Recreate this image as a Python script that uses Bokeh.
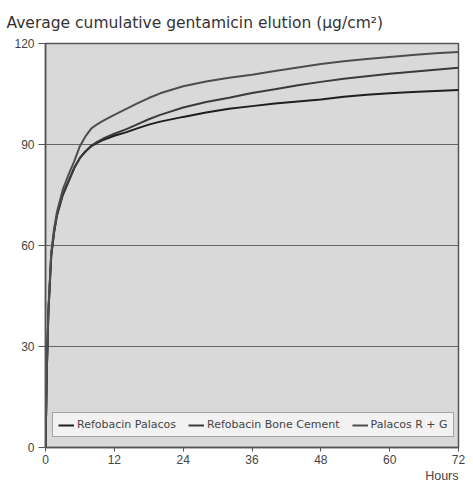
from bokeh.plotting import figure
from bokeh.models import FixedTicker, Legend, LegendItem, Title, Range1d
from bokeh.embed import file_html
from bokeh.resources import INLINE

hours = [0, 0.25, 0.5, 1, 1.5, 2, 3, 4, 5, 6, 7, 8, 9, 10, 12, 14, 16, 18, 20,
         24, 28, 32, 36, 40, 44, 48, 52, 56, 60, 64, 68, 72]
refobacin_palacos = [0, 24, 40, 57, 64, 69, 75, 79, 83, 86, 88, 89.5, 90.5, 91.3,
                     92.6, 93.6, 94.8, 95.9, 96.8, 98.2, 99.5, 100.6, 101.4, 102.2,
                     102.8, 103.4, 104.2, 104.8, 105.2, 105.6, 105.9, 106.2]
refobacin_bone_cement = [0, 24, 40, 57, 64, 69, 75, 79, 83, 86, 88, 89.7, 90.8, 91.7,
                         93.2, 94.5, 96, 97.5, 98.8, 101, 102.6, 103.9, 105.3, 106.4,
                         107.6, 108.6, 109.5, 110.3, 111, 111.6, 112.2, 112.8]
palacos_rg = [0, 25, 41, 58, 65, 70, 76.5, 81, 85, 89.5, 92.5, 94.8, 96, 97, 98.8,
              100.5, 102.2, 103.8, 105.2, 107.3, 108.7, 109.8, 110.7, 111.8, 112.9,
              113.9, 114.7, 115.4, 116, 116.6, 117.1, 117.5]

series_names = ["Refobacin Palacos", "Refobacin Bone Cement", "Palacos R + G"]
x_ticks = [0, 12, 24, 36, 48, 60, 72]
y_ticks = [0, 30, 60, 90, 120]
title_text = "Average cumulative gentamicin elution (\u00b5g/cm\u00b2)"
x_label = "Hours"

FONT = "Liberation Sans"
WIDE = "DejaVu Sans"

p = figure(width=465, height=482, output_backend="svg", toolbar_location=None,
           x_range=Range1d(0, 72), y_range=Range1d(0, 120),
           min_border_left=45, min_border_right=7, min_border_top=42,
           min_border_bottom=35)

p.title.text = title_text
p.title.align = "left"
p.title.offset = -39
p.title.text_font = WIDE
p.title.text_font_size = "15.5px"
p.title.text_font_style = "normal"
p.title.text_color = "#333333"
p.title.standoff = 23

p.add_layout(Title(text=x_label, align="right", text_font=FONT, text_font_size="12.5px",
                   text_font_style="normal", text_color="#444444", offset=0, standoff=0),
             "below")

p.background_fill_color = "#d9d9d9"
p.border_fill_color = "white"
p.outline_line_color = "#555555"
p.outline_line_width = 1.5

p.xgrid.visible = False
p.ygrid.ticker = FixedTicker(ticks=y_ticks)
p.ygrid.grid_line_color = "#666666"
p.ygrid.grid_line_width = 1.2

for ax in (p.xaxis, p.yaxis):
    ax.axis_line_color = "#555555"
    ax.axis_line_width = 1.5
    ax.major_tick_line_color = "#555555"
    ax.minor_tick_line_color = None
    ax.major_tick_in = 0
    ax.major_label_text_font = FONT
    ax.major_label_text_font_size = "12px"
    ax.major_label_text_color = "#444444"

p.xaxis.ticker = FixedTicker(ticks=x_ticks)
p.yaxis.ticker = FixedTicker(ticks=y_ticks)
p.xaxis.major_tick_out = 4
p.yaxis.major_tick_out = 7
p.xaxis.major_label_standoff = 3
p.yaxis.major_label_standoff = 4

colors = ["#1e1e1e", "#3a3a3a", "#4d4d4d"]
data = [refobacin_palacos, refobacin_bone_cement, palacos_rg]
items = []
for name, ys, c in zip(series_names, data, colors):
    r = p.line(hours, ys, line_color=c, line_width=2)
    items.append(LegendItem(label=name, renderers=[r]))

legend = Legend(items=items, orientation="horizontal", location=(7, 10),
                label_text_font=WIDE, label_text_font_size="11px",
                label_text_color="#444444", glyph_width=16, glyph_height=10,
                spacing=12, padding=5, margin=0, label_standoff=3,
                background_fill_color="#f2f2f2", background_fill_alpha=1,
                border_line_color="#555555", border_line_width=1.2)
p.add_layout(legend, "center")

open("out.html", "w").write(file_html(p, INLINE))
